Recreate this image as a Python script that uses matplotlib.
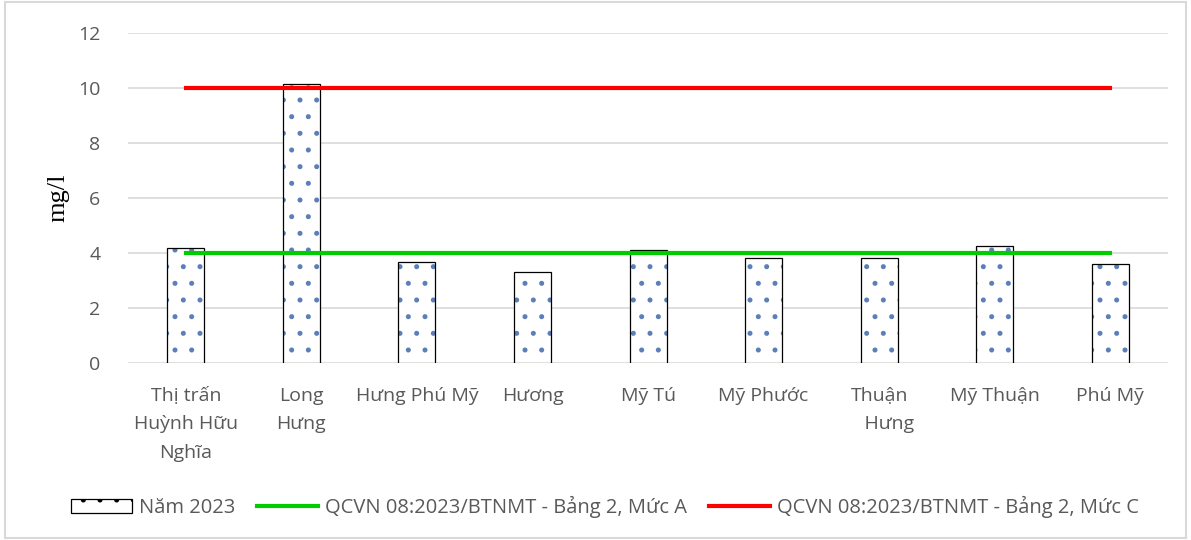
import numpy as np
import matplotlib.pyplot as plt
from matplotlib.patches import Rectangle, Patch
from matplotlib.lines import Line2D

# du lieu
xa = ["Thị trấn\nHuỳnh Hữu\nNghĩa", "Long\nHưng", "Hưng Phú Mỹ", "Hương", "Mỹ Tú",
      "Mỹ Phước", "Thuận\n    Hưng", "Mỹ Thuận", "Phú Mỹ"]
nam2023 = [4.18, 10.15, 3.67, 3.31, 4.11, 3.82, 3.82, 4.25, 3.60]
mucA = [4, 4, 4, 4, 4, 4, 4, 4, 4]
mucC = [10, 10, 10, 10, 10, 10, 10, 10, 10]

plt.rcParams['font.family'] = ['Open Sans', 'DejaVu Sans']
plt.rcParams['hatch.linewidth'] = 1.2

fig = plt.figure(figsize=(11.91, 5.4), dpi=100)
fig.patches.append(Rectangle((0.004, 0.004), 0.992, 0.992, transform=fig.transFigure,
                             fill=False, edgecolor='#d9d9d9', linewidth=1.5))
ax = fig.add_axes([0.1075, 0.3278, 0.8732, 0.6111])

x = np.arange(len(xa))
ax.bar(x, nam2023, width=0.32, color='white', edgecolor='#5b7fb8', hatch='.', linewidth=0, zorder=2)
ax.bar(x, nam2023, width=0.32, fill=False, edgecolor='black', linewidth=0.9, zorder=3)
ax.plot(x, mucA, color='#00cc00', linewidth=3, zorder=4)
ax.plot(x, mucC, color='#ff0000', linewidth=3, zorder=4)

ax.set_xlim(-0.5, len(xa) - 0.5)
ax.set_ylim(0, 12)
ax.set_yticks(range(0, 13, 2))
ax.yaxis.grid(True, color='#d9d9d9', linewidth=1.2, zorder=0)
ax.set_axisbelow(True)
for s in ax.spines.values():
    s.set_visible(False)
ax.tick_params(length=0)
ax.tick_params(axis='y', labelsize=14, labelcolor='#595959', pad=20)
ax.set_xticks(x)
ax.set_xticklabels(xa, fontsize=14, color='#595959', linespacing=1.75)
ax.tick_params(axis='x', pad=17)
ax.set_ylabel('mg/l', fontsize=19, family='Liberation Serif', labelpad=6)

# legend
h = [Patch(facecolor='white', edgecolor='black', hatch='.', linewidth=0.9),
     Line2D([0], [0], color='#00cc00', linewidth=3),
     Line2D([0], [0], color='#ff0000', linewidth=3)]
leg = fig.legend(h, ['Năm 2023', 'QCVN 08:2023/BTNMT - Bảng 2, Mức A', 'QCVN 08:2023/BTNMT - Bảng 2, Mức C'],
                 loc='center', bbox_to_anchor=(0.508, 0.061), ncol=3, frameon=False,
                 fontsize=14.5, handlelength=3.0, handletextpad=0.35, columnspacing=1.1)
for t in leg.get_texts():
    t.set_color('#595959')

fig.savefig('out.png', dpi=100)
